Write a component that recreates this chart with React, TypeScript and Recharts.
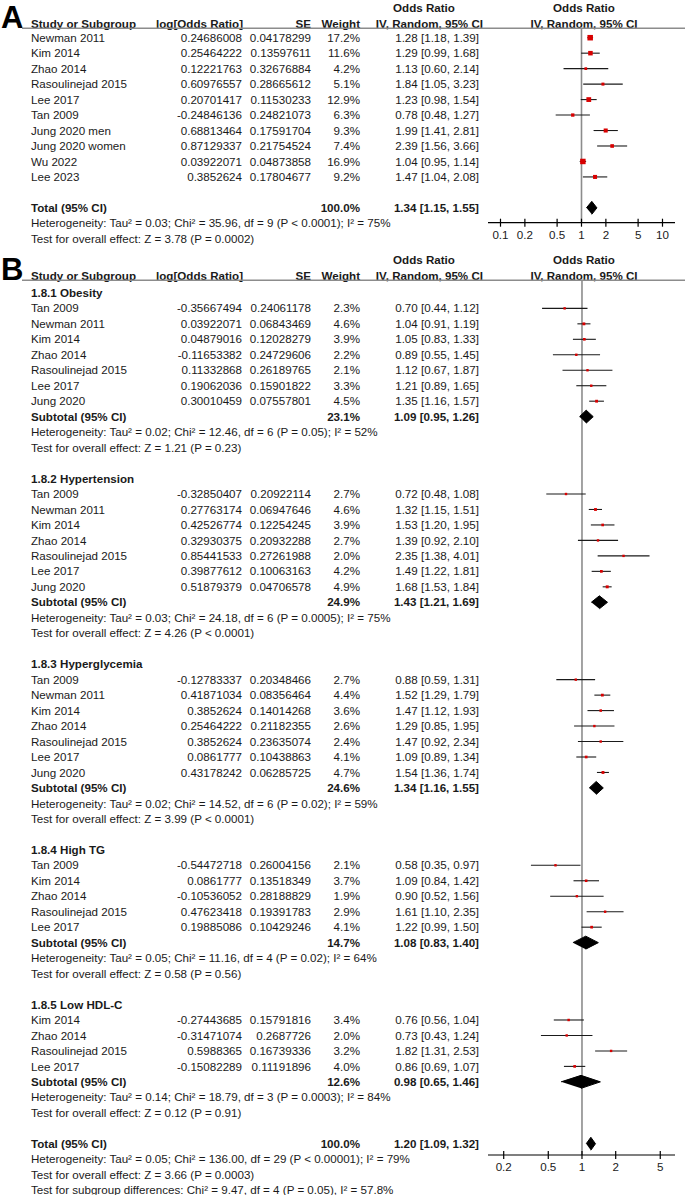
import React from 'react';
import { ScatterChart, Scatter, XAxis, YAxis, ReferenceLine } from 'recharts';

// ---------- DATA ----------
// row: [study, log[OR] text, SE text, weight %, OR, lower CI, upper CI]
type Row = [string, string, string, number, number, number, number];

const panelAStudies: Row[] = [
  ['Newman 2011', '0.24686008', '0.04178299', 17.2, 1.28, 1.18, 1.39],
  ['Kim 2014', '0.25464222', '0.13597611', 11.6, 1.29, 0.99, 1.68],
  ['Zhao 2014', '0.12221763', '0.32676884', 4.2, 1.13, 0.6, 2.14],
  ['Rasoulinejad 2015', '0.60976557', '0.28665612', 5.1, 1.84, 1.05, 3.23],
  ['Lee 2017', '0.20701417', '0.11530233', 12.9, 1.23, 0.98, 1.54],
  ['Tan 2009', '-0.24846136', '0.24821073', 6.3, 0.78, 0.48, 1.27],
  ['Jung 2020 men', '0.68813464', '0.17591704', 9.3, 1.99, 1.41, 2.81],
  ['Jung 2020 women', '0.87129337', '0.21754524', 7.4, 2.39, 1.56, 3.66],
  ['Wu 2022', '0.03922071', '0.04873858', 16.9, 1.04, 0.95, 1.14],
  ['Lee 2023', '0.3852624', '0.17804677', 9.2, 1.47, 1.04, 2.08],
];
const panelATotal = [100.0, 1.34, 1.15, 1.55];
const panelAHeterogeneity = 'Heterogeneity: Tau\u00b2 = 0.03; Chi\u00b2 = 35.96, df = 9 (P < 0.0001); I\u00b2 = 75%';
const panelAOverall = 'Test for overall effect: Z = 3.78 (P = 0.0002)';
const panelATicks = [0.1, 0.2, 0.5, 1, 2, 5, 10];

const obesityRows: Row[] = [
  ['Tan 2009', '-0.35667494', '0.24061178', 2.3, 0.7, 0.44, 1.12],
  ['Newman 2011', '0.03922071', '0.06843469', 4.6, 1.04, 0.91, 1.19],
  ['Kim 2014', '0.04879016', '0.12028279', 3.9, 1.05, 0.83, 1.33],
  ['Zhao 2014', '-0.11653382', '0.24729606', 2.2, 0.89, 0.55, 1.45],
  ['Rasoulinejad 2015', '0.11332868', '0.26189765', 2.1, 1.12, 0.67, 1.87],
  ['Lee 2017', '0.19062036', '0.15901822', 3.3, 1.21, 0.89, 1.65],
  ['Jung 2020', '0.30010459', '0.07557801', 4.5, 1.35, 1.16, 1.57],
];
const obesitySubtotal = [23.1, 1.09, 0.95, 1.26];

const hypertensionRows: Row[] = [
  ['Tan 2009', '-0.32850407', '0.20922114', 2.7, 0.72, 0.48, 1.08],
  ['Newman 2011', '0.27763174', '0.06947646', 4.6, 1.32, 1.15, 1.51],
  ['Kim 2014', '0.42526774', '0.12254245', 3.9, 1.53, 1.2, 1.95],
  ['Zhao 2014', '0.32930375', '0.20932288', 2.7, 1.39, 0.92, 2.1],
  ['Rasoulinejad 2015', '0.85441533', '0.27261988', 2.0, 2.35, 1.38, 4.01],
  ['Lee 2017', '0.39877612', '0.10063163', 4.2, 1.49, 1.22, 1.81],
  ['Jung 2020', '0.51879379', '0.04706578', 4.9, 1.68, 1.53, 1.84],
];
const hypertensionSubtotal = [24.9, 1.43, 1.21, 1.69];

const hyperglycemiaRows: Row[] = [
  ['Tan 2009', '-0.12783337', '0.20348466', 2.7, 0.88, 0.59, 1.31],
  ['Newman 2011', '0.41871034', '0.08356464', 4.4, 1.52, 1.29, 1.79],
  ['Kim 2014', '0.3852624', '0.14014268', 3.6, 1.47, 1.12, 1.93],
  ['Zhao 2014', '0.25464222', '0.21182355', 2.6, 1.29, 0.85, 1.95],
  ['Rasoulinejad 2015', '0.3852624', '0.23635074', 2.4, 1.47, 0.92, 2.34],
  ['Lee 2017', '0.0861777', '0.10438863', 4.1, 1.09, 0.89, 1.34],
  ['Jung 2020', '0.43178242', '0.06285725', 4.7, 1.54, 1.36, 1.74],
];
const hyperglycemiaSubtotal = [24.6, 1.34, 1.16, 1.55];

const highTGRows: Row[] = [
  ['Tan 2009', '-0.54472718', '0.26004156', 2.1, 0.58, 0.35, 0.97],
  ['Kim 2014', '0.0861777', '0.13518349', 3.7, 1.09, 0.84, 1.42],
  ['Zhao 2014', '-0.10536052', '0.28188829', 1.9, 0.9, 0.52, 1.56],
  ['Rasoulinejad 2015', '0.47623418', '0.19391783', 2.9, 1.61, 1.1, 2.35],
  ['Lee 2017', '0.19885086', '0.10429246', 4.1, 1.22, 0.99, 1.5],
];
const highTGSubtotal = [14.7, 1.08, 0.83, 1.4];

const lowHDLRows: Row[] = [
  ['Kim 2014', '-0.27443685', '0.15791816', 3.4, 0.76, 0.56, 1.04],
  ['Zhao 2014', '-0.31471074', '0.2687726', 2.0, 0.73, 0.43, 1.24],
  ['Rasoulinejad 2015', '0.5988365', '0.16739336', 3.2, 1.82, 1.31, 2.53],
  ['Lee 2017', '-0.15082289', '0.11191896', 4.0, 0.86, 0.69, 1.07],
];
const lowHDLSubtotal = [12.6, 0.98, 0.65, 1.46];

const subgroupTitles = ['1.8.1 Obesity', '1.8.2 Hypertension', '1.8.3 Hyperglycemia', '1.8.4 High TG', '1.8.5 Low HDL-C'];
const subgroupHeterogeneity = [
  'Heterogeneity: Tau\u00b2 = 0.02; Chi\u00b2 = 12.46, df = 6 (P = 0.05); I\u00b2 = 52%',
  'Heterogeneity: Tau\u00b2 = 0.03; Chi\u00b2 = 24.18, df = 6 (P = 0.0005); I\u00b2 = 75%',
  'Heterogeneity: Tau\u00b2 = 0.02; Chi\u00b2 = 14.52, df = 6 (P = 0.02); I\u00b2 = 59%',
  'Heterogeneity: Tau\u00b2 = 0.05; Chi\u00b2 = 11.16, df = 4 (P = 0.02); I\u00b2 = 64%',
  'Heterogeneity: Tau\u00b2 = 0.14; Chi\u00b2 = 18.79, df = 3 (P = 0.0003); I\u00b2 = 84%',
];
const subgroupOverall = [
  'Test for overall effect: Z = 1.21 (P = 0.23)',
  'Test for overall effect: Z = 4.26 (P < 0.0001)',
  'Test for overall effect: Z = 3.99 (P < 0.0001)',
  'Test for overall effect: Z = 0.58 (P = 0.56)',
  'Test for overall effect: Z = 0.12 (P = 0.91)',
];
const panelBTotal = [100.0, 1.2, 1.09, 1.32];
const panelBFooter = [
  'Heterogeneity: Tau\u00b2 = 0.05; Chi\u00b2 = 136.00, df = 29 (P < 0.00001); I\u00b2 = 79%',
  'Test for overall effect: Z = 3.66 (P = 0.0003)',
  'Test for subgroup differences: Chi\u00b2 = 9.47, df = 4 (P = 0.05), I\u00b2 = 57.8%',
];
const panelBTicks = [0.2, 0.5, 1, 2, 5];

const subgroups = [
  { title: subgroupTitles[0], rows: obesityRows, sub: obesitySubtotal, het: subgroupHeterogeneity[0], test: subgroupOverall[0] },
  { title: subgroupTitles[1], rows: hypertensionRows, sub: hypertensionSubtotal, het: subgroupHeterogeneity[1], test: subgroupOverall[1] },
  { title: subgroupTitles[2], rows: hyperglycemiaRows, sub: hyperglycemiaSubtotal, het: subgroupHeterogeneity[2], test: subgroupOverall[2] },
  { title: subgroupTitles[3], rows: highTGRows, sub: highTGSubtotal, het: subgroupHeterogeneity[3], test: subgroupOverall[3] },
  { title: subgroupTitles[4], rows: lowHDLRows, sub: lowHDLSubtotal, het: subgroupHeterogeneity[4], test: subgroupOverall[4] },
];

// ---------- LAYOUT ----------
const W = 685;
const FONT = '"Liberation Sans", Arial, Helvetica, sans-serif';
const FS = 11.6;
const PITCH = 15.47;
const PLOT_LEFT = 488;
const PLOT_RIGHT_MARGIN = 10;
const RULE_OFFSET = 28.3;

const A_TOP = 0;
const A_H = 252;
const A_ROW0 = 37.7;
const A_AXIS = 222.7;

const B_TOP = 252;
const B_H = 943;
const B_ROW0 = 292.9;
const B_AXIS = 1155;

const COL_NAME = 31;
const COL_LOG = 242;
const COL_SE = 311;
const COL_W = 360;
const COL_CI = 479;
const HDR_CI_END = 483;
const HDR_OR_CENTER = 424;
const PLOT_HDR_CENTER = 584;

const TICK_SIZE = 4;
const TICK_MARGIN = 4;
const DIAMOND_HALF = 0.42;

const f2 = (v: number) => v.toFixed(2);
const ciText = (or: number, lo: number, hi: number) => `${f2(or)} [${f2(lo)}, ${f2(hi)}]`;

type Pt = { x: number; y: number; w?: number };
type Seg = { lo: number; hi: number; row: number };
type Dia = { or: number; lo: number; hi: number; row: number };

const Square = (props: any) => {
  const { cx, cy, payload } = props;
  if (cx == null || cy == null) return <g />;
  const s = Math.max(2.4, 1.33 * Math.sqrt(payload.w || 1));
  return <rect x={cx - s / 2} y={cy - s / 2} width={s} height={s} fill="#d80000" />;
};
const Nothing = () => <g />;

const makeTick = (props: any) => {
  const { x, y, payload } = props;
  const axisY = y - TICK_SIZE - TICK_MARGIN;
  return (
    <g>
      <line x1={x} x2={x} y1={axisY - 4} y2={axisY} stroke="#000" strokeWidth={1.2} />
      <text x={x} y={y} dy="0.71em" textAnchor="middle" fontSize={FS} fontFamily={FONT} fill="#1a1a1a">
        {String(payload.value)}
      </text>
    </g>
  );
};

function Forest(props: {
  top: number; height: number; row0: number; axisAbs: number; domain: [number, number]; ticks: number[];
  points: Pt[]; segs: Seg[]; dias: Dia[]; xAxisHeight: number;
}) {
  const { top, height, row0, axisAbs, domain, ticks, points, segs, dias, xAxisHeight } = props;
  const ruleAbs = top + RULE_OFFSET;
  const yMin = -(row0 - ruleAbs) / PITCH;
  const yMax = (axisAbs - row0) / PITCH;
  const bottomMargin = top + height - axisAbs - xAxisHeight;
  return (
    <div style={{ position: 'absolute', left: 0, top, width: W, height }}>
      <ScatterChart width={W} height={height} margin={{ top: RULE_OFFSET, right: PLOT_RIGHT_MARGIN, bottom: bottomMargin, left: PLOT_LEFT }}>
        <XAxis
          type="number" dataKey="x" scale="log" domain={domain} ticks={ticks} interval={0}
          allowDataOverflow height={xAxisHeight}
          axisLine={{ stroke: '#000', strokeWidth: 1.2 }} tickLine={{ stroke: '#000', strokeWidth: 1.2 }}
          tickSize={TICK_SIZE} tickMargin={TICK_MARGIN} tick={makeTick}
        />
        <YAxis type="number" dataKey="y" domain={[yMin, yMax]} reversed hide allowDataOverflow width={0} />
        <ReferenceLine x={1} stroke="#8c8c8c" strokeWidth={1.6} />
        {segs.map((s, i) => (
          <ReferenceLine key={'s' + i} segment={[{ x: s.lo, y: s.row }, { x: s.hi, y: s.row }]} stroke="#1a1a1a" strokeWidth={1.1} />
        ))}
        {dias.map((d, i) => (
          <Scatter
            key={'d' + i}
            data={[
              { x: d.lo, y: d.row },
              { x: d.or, y: d.row - DIAMOND_HALF },
              { x: d.hi, y: d.row },
              { x: d.or, y: d.row + DIAMOND_HALF },
            ]}
            line={{ fill: '#000', stroke: '#000', strokeWidth: 1 }}
            lineType="joint"
            shape={Nothing}
            isAnimationActive={false}
          />
        ))}
        <Scatter data={points} shape={Square} isAnimationActive={false} />
      </ScatterChart>
    </div>
  );
}

function Txt({ x, y, anchor = 'start', bold = false, children }: any) {
  return (
    <text x={x} y={y + 4.1} textAnchor={anchor} fontSize={FS} fontWeight={bold ? 'bold' : 'normal'} fontFamily={FONT} fill="#1a1a1a">
      {children}
    </text>
  );
}

function Header({ top, letter, letterY }: { top: number; letter: string; letterY: number }) {
  const r1 = top + 8.3;
  const r2 = top + 23.5;
  return (
    <g>
      <text x={1} y={letterY} fontSize={31} fontWeight="bold" fontFamily={FONT} fill="#000">{letter}</text>
      <Txt x={HDR_OR_CENTER} y={r1} anchor="middle" bold>Odds Ratio</Txt>
      <Txt x={PLOT_HDR_CENTER} y={r1} anchor="middle" bold>Odds Ratio</Txt>
      <Txt x={COL_NAME} y={r2} bold>Study or Subgroup</Txt>
      <Txt x={COL_LOG + 1} y={r2} anchor="end" bold>log[Odds Ratio]</Txt>
      <Txt x={COL_SE} y={r2} anchor="end" bold>SE</Txt>
      <Txt x={COL_W} y={r2} anchor="end" bold>Weight</Txt>
      <Txt x={HDR_CI_END} y={r2} anchor="end" bold>IV, Random, 95% CI</Txt>
      <Txt x={PLOT_HDR_CENTER} y={r2} anchor="middle" bold>IV, Random, 95% CI</Txt>
      <line x1={22} x2={W} y1={top + RULE_OFFSET} y2={top + RULE_OFFSET} stroke="#8c8c8c" strokeWidth={1.6} />
    </g>
  );
}

function StudyText({ r, y }: { r: Row; y: number }) {
  return (
    <g>
      <Txt x={COL_NAME} y={y}>{r[0]}</Txt>
      <Txt x={COL_LOG} y={y} anchor="end">{r[1]}</Txt>
      <Txt x={COL_SE} y={y} anchor="end">{r[2]}</Txt>
      <Txt x={COL_W} y={y} anchor="end">{r[3].toFixed(1) + '%'}</Txt>
      <Txt x={COL_CI} y={y} anchor="end">{ciText(r[4], r[5], r[6])}</Txt>
    </g>
  );
}

function PooledText({ label, v, y }: { label: string; v: number[]; y: number }) {
  return (
    <g>
      <Txt x={COL_NAME} y={y} bold>{label}</Txt>
      <Txt x={COL_W} y={y} anchor="end" bold>{v[0].toFixed(1) + '%'}</Txt>
      <Txt x={COL_CI} y={y} anchor="end" bold>{ciText(v[1], v[2], v[3])}</Txt>
    </g>
  );
}

export default function App() {
  // Panel A
  const aY = (r: number) => A_ROW0 + PITCH * r;
  const aPoints: Pt[] = panelAStudies.map((s, i) => ({ x: s[4], y: i, w: s[3] }));
  const aSegs: Seg[] = panelAStudies.map((s, i) => ({ lo: s[5], hi: s[6], row: i }));
  const aTotalRow = panelAStudies.length + 1;
  const aDias: Dia[] = [{ or: panelATotal[1], lo: panelATotal[2], hi: panelATotal[3], row: aTotalRow }];

  // Panel B
  const bY = (r: number) => B_ROW0 + PITCH * r;
  const bPoints: Pt[] = [];
  const bSegs: Seg[] = [];
  const bDias: Dia[] = [];
  const bText: React.ReactNode[] = [];
  let r = 0;
  subgroups.forEach((g, gi) => {
    bText.push(<Txt key={'t' + gi} x={COL_NAME} y={bY(r)} bold>{g.title}</Txt>);
    g.rows.forEach((s, i) => {
      const row = r + 1 + i;
      bPoints.push({ x: s[4], y: row, w: s[3] });
      bSegs.push({ lo: s[5], hi: s[6], row });
      bText.push(<StudyText key={`s${gi}-${i}`} r={s} y={bY(row)} />);
    });
    const subRow = r + g.rows.length + 1;
    bDias.push({ or: g.sub[1], lo: g.sub[2], hi: g.sub[3], row: subRow });
    bText.push(<PooledText key={'p' + gi} label="Subtotal (95% CI)" v={g.sub} y={bY(subRow)} />);
    bText.push(<Txt key={'h' + gi} x={COL_NAME} y={bY(subRow + 1)}>{g.het}</Txt>);
    bText.push(<Txt key={'o' + gi} x={COL_NAME} y={bY(subRow + 2)}>{g.test}</Txt>);
    r = subRow + 4;
  });
  const bTotalRow = r;
  bDias.push({ or: panelBTotal[1], lo: panelBTotal[2], hi: panelBTotal[3], row: bTotalRow });

  return (
    <div style={{ position: 'absolute', left: 0, top: 0, width: W, height: 1195, background: '#fff', overflow: 'hidden' }}>
      <Forest top={A_TOP} height={A_H} row0={A_ROW0} axisAbs={A_AXIS} domain={[0.0701, 14.27]} ticks={panelATicks}
        points={aPoints} segs={aSegs} dias={aDias} xAxisHeight={22} />
      <Forest top={B_TOP} height={B_H} row0={B_ROW0} axisAbs={B_AXIS} domain={[0.1448, 6.77]} ticks={panelBTicks}
        points={bPoints} segs={bSegs} dias={bDias} xAxisHeight={30} />
      <svg width={W} height={1195} style={{ position: 'absolute', left: 0, top: 0, pointerEvents: 'none' }}>
        <Header top={A_TOP} letter="A" letterY={27.5} />
        {panelAStudies.map((s, i) => <StudyText key={'a' + i} r={s} y={aY(i)} />)}
        <PooledText label="Total (95% CI)" v={panelATotal} y={aY(aTotalRow)} />
        <Txt x={COL_NAME} y={aY(aTotalRow + 1)}>{panelAHeterogeneity}</Txt>
        <Txt x={COL_NAME} y={aY(aTotalRow + 2)}>{panelAOverall}</Txt>

        <Header top={B_TOP} letter="B" letterY={B_TOP + 27.5} />
        {bText}
        <PooledText label="Total (95% CI)" v={panelBTotal} y={bY(bTotalRow)} />
        {panelBFooter.map((t, i) => <Txt key={'f' + i} x={COL_NAME} y={bY(bTotalRow + 1 + i)}>{t}</Txt>)}
      </svg>
    </div>
  );
}
